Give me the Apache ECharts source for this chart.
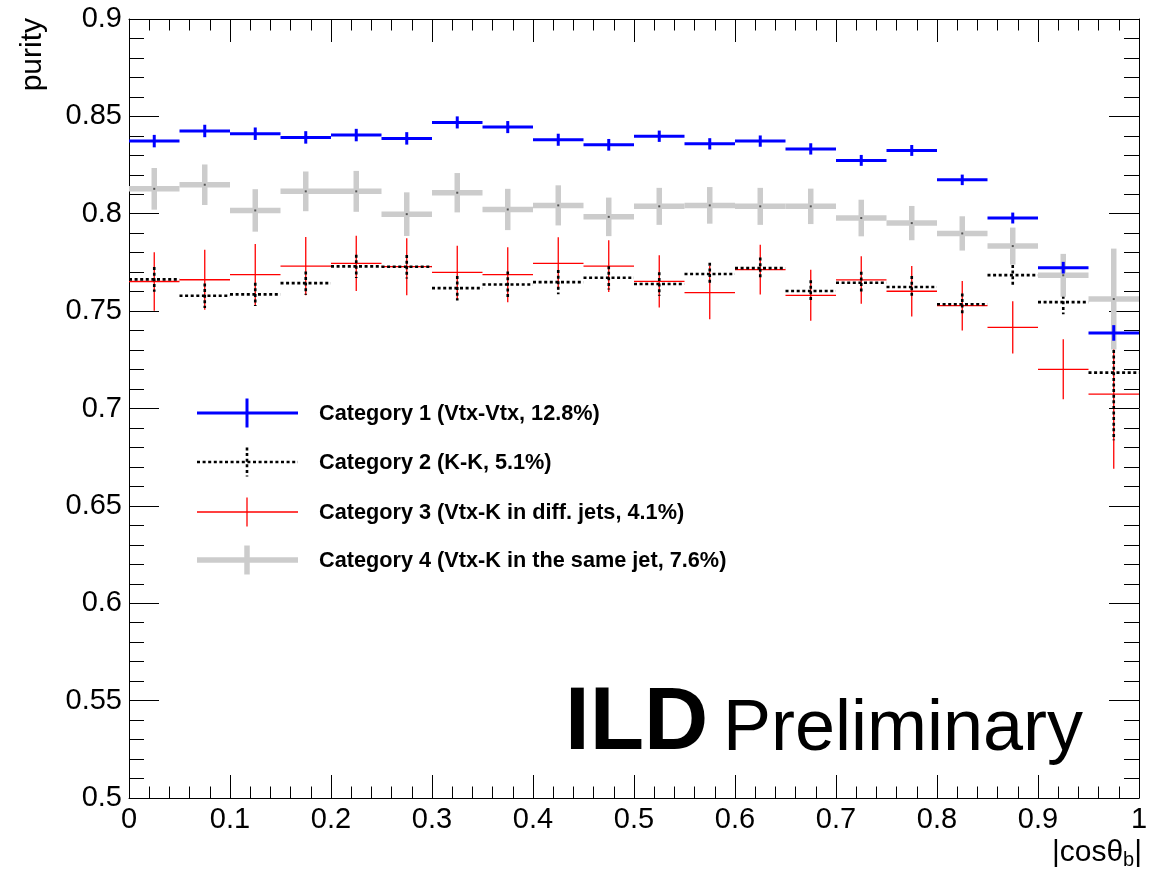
<!DOCTYPE html>
<html>
<head>
<meta charset="utf-8">
<title>purity vs |cos theta_b|</title>
<script src="https://cdn.jsdelivr.net/npm/echarts@6/dist/echarts.min.js"></script>
<style>
  html, body { margin: 0; padding: 0; background: #ffffff; }
  #chart { width: 1151px; height: 870px; }
</style>
</head>
<body>
<div id="chart"></div>
<script>
// Bin centres of |cos theta_b| (20 bins of width 0.05)
const binCenters = [0.025, 0.075, 0.125, 0.175, 0.225, 0.275, 0.325, 0.375, 0.425, 0.475,
                    0.525, 0.575, 0.625, 0.675, 0.725, 0.775, 0.825, 0.875, 0.925, 0.975];
const binHalfWidth = 0.025;

// Category 1 (Vtx-Vtx)
const cat1Purity = [0.8373, 0.8425, 0.8411, 0.8392, 0.8404, 0.8387, 0.8469, 0.8445, 0.8380, 0.8354,
                    0.8398, 0.8359, 0.8373, 0.8333, 0.8274, 0.8325, 0.8174, 0.7978, 0.7723, 0.7388];
const cat1Error  = [0.0032, 0.0032, 0.0032, 0.0032, 0.0032, 0.0032, 0.0031, 0.0031, 0.0031, 0.0030,
                    0.0029, 0.0029, 0.0029, 0.0029, 0.0028, 0.0028, 0.0027, 0.0028, 0.0030, 0.0040];

// Category 2 (K-K)
const cat2Purity = [0.7663, 0.7579, 0.7586, 0.7644, 0.7730, 0.7728, 0.7618, 0.7637, 0.7649, 0.7671,
                    0.7639, 0.7691, 0.7721, 0.7603, 0.7646, 0.7624, 0.7535, 0.7685, 0.7546, 0.7184];
const cat2Error  = [0.0063, 0.0063, 0.0060, 0.0060, 0.0060, 0.0060, 0.0063, 0.0066, 0.0062, 0.0060,
                    0.0060, 0.0057, 0.0054, 0.0056, 0.0056, 0.0056, 0.0056, 0.0052, 0.0062, 0.0347];

// Category 3 (Vtx-K in different jets)
const cat3Purity = [0.7652, 0.7661, 0.7687, 0.7731, 0.7745, 0.7728, 0.7699, 0.7687, 0.7745, 0.7731,
                    0.7653, 0.7595, 0.7713, 0.7581, 0.7660, 0.7602, 0.7528, 0.7417, 0.7201, 0.7074];
const cat3Error  = [0.0150, 0.0154, 0.0158, 0.0149, 0.0142, 0.0146, 0.0137, 0.0141, 0.0134, 0.0133,
                    0.0134, 0.0137, 0.0128, 0.0131, 0.0122, 0.0130, 0.0127, 0.0134, 0.0154, 0.0383];

// Category 4 (Vtx-K in the same jet)
const cat4Purity = [0.8128, 0.8149, 0.8017, 0.8115, 0.8115, 0.7998, 0.8108, 0.8022, 0.8043, 0.7984,
                    0.8038, 0.8043, 0.8038, 0.8038, 0.7978, 0.7952, 0.7899, 0.7834, 0.7684, 0.7562];
const cat4Error  = [0.0107, 0.0104, 0.0109, 0.0102, 0.0105, 0.0112, 0.0101, 0.0106, 0.0103, 0.0099,
                    0.0095, 0.0094, 0.0095, 0.0091, 0.0094, 0.0088, 0.0088, 0.0095, 0.0110, 0.0259];

const legendLabels = [
  'Category 1 (Vtx-Vtx, 12.8%)',
  'Category 2 (K-K, 5.1%)',
  'Category 3 (Vtx-K in diff. jets, 4.1%)',
  'Category 4 (Vtx-K in the same jet, 7.6%)'
];

const xRange = [0, 1, 0.1];
const yRange = [0.5, 0.9, 0.05];

const FONT = '"Liberation Sans", Arial, Helvetica, sans-serif';

const styles = [
  { color: '#0000ff', width: 3,   dash: null,   dot: false },
  { color: '#000000', width: 2.6, dash: [3, 2.6], dot: false },
  { color: '#ff0000', width: 1.3, dash: null,   dot: false },
  { color: '#cccccc', width: 5.5, dash: null,   dot: true  }
];

// Histogram bin drawn as a horizontal bin-width segment plus a vertical error bar
function errorCross(st) {
  return function (params, api) {
    const x = api.value(0), y = api.value(1), e = api.value(2);
    const l = api.coord([x - binHalfWidth, y]);
    const r = api.coord([x + binHalfWidth, y]);
    const t = api.coord([x, y + e]);
    const b = api.coord([x, y - e]);
    const lineStyle = { stroke: st.color, lineWidth: st.width, lineDash: st.dash, fill: null };
    const children = [
      { type: 'line', shape: { x1: l[0], y1: l[1], x2: r[0], y2: r[1] }, style: lineStyle },
      { type: 'line', shape: { x1: t[0], y1: t[1], x2: b[0], y2: b[1] }, style: lineStyle }
    ];
    if (st.dot) {
      const c = api.coord([x, y]);
      children.push({ type: 'rect', shape: { x: c[0] - 1, y: c[1] - 1, width: 2, height: 2 },
                      style: { fill: '#555555' } });
    }
    return { type: 'group', children: children };
  };
}

function seriesData(vals, errs) {
  return binCenters.map((c, i) => [c, vals[i], errs[i]]);
}

const allSeries = [
  { name: legendLabels[2], st: styles[2], data: seriesData(cat3Purity, cat3Error), z: 2 },
  { name: legendLabels[1], st: styles[1], data: seriesData(cat2Purity, cat2Error), z: 3 },
  { name: legendLabels[3], st: styles[3], data: seriesData(cat4Purity, cat4Error), z: 4 },
  { name: legendLabels[0], st: styles[0], data: seriesData(cat1Purity, cat1Error), z: 5 }
].map(s => ({
  type: 'custom',
  name: s.name,
  xAxisIndex: 0,
  yAxisIndex: 0,
  z: s.z,
  silent: true,
  renderItem: errorCross(s.st),
  encode: { x: 0, y: 1 },
  data: s.data
}));

function fmt(v) { return String(+v.toFixed(2)); }

const xBase = {
  type: 'value', min: xRange[0], max: xRange[1], interval: xRange[2],
  axisLine: { show: true, onZero: false, lineStyle: { color: '#000', width: 1 } },
  axisTick: { show: true, inside: true, length: 23, lineStyle: { color: '#000', width: 1 } },
  minorTick: { show: true, splitNumber: 5, length: 11.5, lineStyle: { color: '#000', width: 1 } },
  splitLine: { show: false },
  minorSplitLine: { show: false }
};
const yBase = {
  type: 'value', min: yRange[0], max: yRange[1], interval: yRange[2],
  axisLine: { show: true, onZero: false, lineStyle: { color: '#000', width: 1 } },
  axisTick: { show: true, inside: true, length: 30, lineStyle: { color: '#000', width: 1 } },
  minorTick: { show: true, splitNumber: 5, length: 15, lineStyle: { color: '#000', width: 1 } },
  splitLine: { show: false },
  minorSplitLine: { show: false }
};

// Legend block: sample crosses and labels
const legendRows = [413, 462, 512, 560];
const legendOrder = [0, 1, 2, 3];
const legendGraphics = [];
legendOrder.forEach((k, i) => {
  const st = styles[k];
  const y = legendRows[i];
  const ls = { stroke: st.color, lineWidth: st.width, lineDash: st.dash };
  legendGraphics.push({ type: 'line', silent: true, z: 10,
    shape: { x1: 197, y1: y, x2: 298, y2: y }, style: ls });
  legendGraphics.push({ type: 'line', silent: true, z: 10,
    shape: { x1: 247, y1: y - 14.5, x2: 247, y2: y + 14.5 }, style: ls });
  legendGraphics.push({ type: 'text', silent: true, z: 10, x: 319, y: y + 1,
    style: { text: legendLabels[k], font: 'bold 21.7px ' + FONT, fill: '#000',
             align: 'left', verticalAlign: 'middle' } });
});

const option = {
  backgroundColor: '#ffffff',
  animation: false,
  grid: { left: 129, right: 12, top: 19, bottom: 72, containLabel: false },
  xAxis: [
    Object.assign({}, xBase, { position: 'bottom',
      axisLabel: { show: true, margin: 7, color: '#000', fontSize: 29, fontFamily: FONT, formatter: fmt } }),
    Object.assign({}, xBase, { position: 'top', axisLabel: { show: false } })
  ],
  yAxis: [
    Object.assign({}, yBase, { position: 'left',
      axisLabel: { show: true, margin: 7, color: '#000', fontSize: 29, fontFamily: FONT, formatter: fmt } }),
    Object.assign({}, yBase, { position: 'right', axisLabel: { show: false } })
  ],
  graphic: legendGraphics.concat([
    { type: 'text', silent: true, x: 33, y: 18, rotation: Math.PI / 2,
      style: { text: 'purity', font: '30px ' + FONT, fill: '#000', align: 'right', verticalAlign: 'middle' } },
    { type: 'text', silent: true, x: 1142, y: 853,
      style: { text: '{m||cosθ}{s|b}{m||}', align: 'right', verticalAlign: 'middle',
        rich: {
          m: { font: '30px ' + FONT, fill: '#000', verticalAlign: 'middle' },
          s: { font: '20px ' + FONT, fill: '#000', padding: [14, 0, 0, 0] }
        } } },
    { type: 'text', silent: true, x: 565, y: 724,
      style: { text: 'ILD', font: 'bold 89px ' + FONT, fill: '#000', align: 'left', verticalAlign: 'middle' } },
    { type: 'text', silent: true, x: 723, y: 730,
      style: { text: 'Preliminary', font: '72px ' + FONT, fill: '#000', align: 'left', verticalAlign: 'middle' } }
  ]),
  series: allSeries
};

const chart = echarts.init(document.getElementById('chart'), null, { renderer: 'canvas' });
chart.setOption(option);
</script>
</body>
</html>
